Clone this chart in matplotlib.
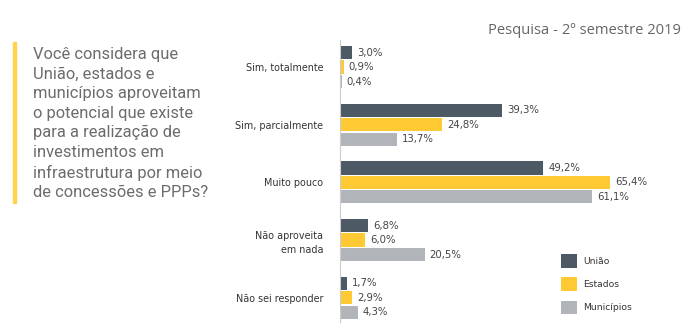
import matplotlib.pyplot as plt
import numpy as np
from matplotlib.patches import Patch

plt.rcParams['font.family'] = ['DejaVu Sans']

# Dados da pesquisa
categorias = ['Sim, totalmente', 'Sim, parcialmente', 'Muito pouco',
              'Não aproveita\nem nada', 'Não sei responder']
uniao = [3.0, 39.3, 49.2, 6.8, 1.7]
estados = [0.9, 24.8, 65.4, 6.0, 2.9]
municipios = [0.4, 13.7, 61.1, 20.5, 4.3]
series = ['União', 'Estados', 'Municípios']
cores = ['#4e5966', '#ffc933', '#b1b5ba']

fig = plt.figure(figsize=(6.96, 3.29), dpi=100)
ax = fig.add_axes([340 / 696, 7 / 329, 350 / 696, 282 / 329])

y = np.arange(len(categorias))
passo = 0.25
altura = 0.23
for i, (vals, cor) in enumerate(zip([uniao, estados, municipios], cores)):
    pos = y + (i - 1) * passo
    ax.barh(pos, vals, height=altura, color=cor)
    for p, v in zip(pos, vals):
        ax.text(v + 1.2, p, f'{v:.1f}%'.replace('.', ','), va='center',
                ha='left', fontsize=7.3, color='#444444')

ax.set_xlim(0, 84.7)
ax.set_ylim(4.42, -0.47)
ax.set_yticks(y)
ax.set_yticklabels(categorias, fontsize=6.9, color='#333333', linespacing=1.5)
ax.tick_params(axis='y', length=0, pad=12)
ax.set_xticks([])
for s in ['top', 'right', 'bottom']:
    ax.spines[s].set_visible(False)
ax.spines['left'].set_color('#cccccc')

handles = [Patch(facecolor=c, label=s) for c, s in zip(cores, series)]
fig.legend(handles=handles, loc='upper left', bbox_to_anchor=(553 / 696, 1 - 246 / 329),
           frameon=False, fontsize=6.6, handlelength=1.75, handleheight=1.9,
           labelspacing=1.05, handletextpad=0.65, labelcolor='#333333')

# Pergunta
fig.patches.append(plt.Rectangle((13 / 696, 1 - 203 / 329), 3 / 696, 161 / 329,
                                 transform=fig.transFigure, color='#ffd34e'))
pergunta = ('Você considera que\nUnião, estados e\nmunicípios aproveitam\n'
            'o potencial que existe\npara a realização de\ninvestimentos em\n'
            'infraestrutura por meio\nde concessões e PPPs?')
fig.text(33 / 696, 1 - 197 / 329, pergunta, ha='left', va='baseline', fontsize=11.9,
         color='#6c6c6c', linespacing=1.37, family='Roboto')

fig.text(681 / 696, 1 - 30 / 329, 'Pesquisa - 2º semestre 2019', ha='right',
         va='center', fontsize=10.6, color='#666666', family='Open Sans')

fig.savefig('out.png', dpi=100)
